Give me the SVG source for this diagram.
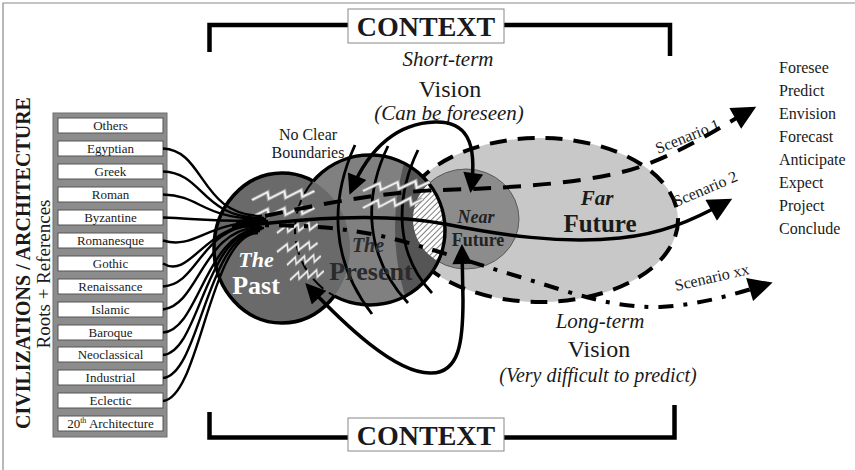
<svg xmlns="http://www.w3.org/2000/svg" xmlns:xlink="http://www.w3.org/1999/xlink" width="855" height="470" viewBox="0 0 855 470">
<style>
text{font-family:"Liberation Serif","Times New Roman",serif;fill:#1a1a1a}
.box rect{fill:#fff;stroke:#555;stroke-width:1}
.box text{font-size:13px;text-anchor:middle}
.brk{fill:none;stroke:#000;stroke-width:4.5}
.ctx rect{fill:#fff;stroke:#888;stroke-width:1}
.ctx text{font-size:28px;font-weight:bold;text-anchor:middle}
.lbl{text-anchor:middle}
.it{font-style:italic}
.word{font-size:16px}
.scn{font-size:16px}
.src{fill:none;stroke:#000;stroke-width:2.4}
.zzo{fill:none;stroke:#9a9a9a;stroke-width:3.4}
.zz{fill:none;stroke:#f0f0f0;stroke-width:1.6}
.mer{fill:none;stroke:#000;stroke-width:2.8}
</style>
<defs>
<marker id="ah" viewBox="0 0 10 10" refX="8" refY="5" markerWidth="26" markerHeight="24" markerUnits="userSpaceOnUse" orient="auto-start-reverse"><path d="M0,0 L10,5 L0,10 z" fill="#000"/></marker>
<marker id="ah2" viewBox="0 0 10 10" refX="8" refY="5" markerWidth="22" markerHeight="20" markerUnits="userSpaceOnUse" orient="auto-start-reverse"><path d="M0,0 L10,5 L0,10 z" fill="#000"/></marker>
<pattern id="hatch" width="4" height="4" patternUnits="userSpaceOnUse" patternTransform="rotate(45)"><rect width="4" height="4" fill="#fff"/><line x1="0" y1="0" x2="0" y2="4" stroke="#000" stroke-width="1"/></pattern>
<clipPath id="presentClip"><circle cx="370" cy="230" r="75"/></clipPath>
<mask id="outsidePresent" maskUnits="userSpaceOnUse" x="0" y="0" width="855" height="470"><rect width="855" height="470" fill="#fff"/><circle cx="370" cy="230" r="75" fill="#000"/></mask>
<mask id="insidePast" maskUnits="userSpaceOnUse" x="0" y="0" width="855" height="470"><rect width="855" height="470" fill="#000"/><ellipse cx="282" cy="248" rx="68" ry="75" fill="#fff"/></mask>
<path id="zz" d="M0,9 L13,1 L14,8 L27,0 L28,7 L41,-1 L42,6 L52,0"/>
<g id="zzg"><use href="#zz" class="zzo"/><use href="#zz" class="zz"/></g>
</defs>

<g id="frame"><path d="M3,470 V3 H855" fill="none" stroke="#8a8a8a" stroke-width="1.2"/></g>

<g id="context-top" class="ctx">
<path class="brk" d="M209.5,52 V25 H348 M504,25 H670 V56"/>
<rect x="348" y="9" width="156" height="34"/>
<text x="426" y="36">CONTEXT</text>
</g>
<g id="context-bottom" class="ctx">
<path class="brk" d="M209.5,412 V437.5 H348 M504,437.5 H674.5 V405"/>
<rect x="348" y="418" width="156" height="33"/>
<text x="426" y="445">CONTEXT</text>
</g>

<g id="titles">
<text transform="translate(30,263) rotate(-90)" text-anchor="middle" font-size="20" font-weight="bold">CIVILIZATIONS  / ARCHITECTURE</text>
<text transform="translate(50,274) rotate(-90)" text-anchor="middle" font-size="19">Roots + References</text>
</g>

<g id="civilizations">
<rect x="53" y="113" width="114" height="324" fill="#8c8c8c" stroke="#6e6e6e" stroke-width="1"/>
<g id="box-others" class="box"><rect x="58" y="118" width="105" height="15"/><text x="110.5" y="130">Others</text></g>
<g id="box-egyptian" class="box"><rect x="58" y="141" width="105" height="15"/><text x="110.5" y="153">Egyptian</text></g>
<g id="box-greek" class="box"><rect x="58" y="164" width="105" height="15"/><text x="110.5" y="176">Greek</text></g>
<g id="box-roman" class="box"><rect x="58" y="187" width="105" height="15"/><text x="110.5" y="199">Roman</text></g>
<g id="box-byzantine" class="box"><rect x="58" y="210" width="105" height="15"/><text x="110.5" y="222">Byzantine</text></g>
<g id="box-romanesque" class="box"><rect x="58" y="233" width="105" height="15"/><text x="110.5" y="245">Romanesque</text></g>
<g id="box-gothic" class="box"><rect x="58" y="256" width="105" height="15"/><text x="110.5" y="268">Gothic</text></g>
<g id="box-renaissance" class="box"><rect x="58" y="279" width="105" height="15"/><text x="110.5" y="291">Renaissance</text></g>
<g id="box-islamic" class="box"><rect x="58" y="302" width="105" height="15"/><text x="110.5" y="314">Islamic</text></g>
<g id="box-baroque" class="box"><rect x="58" y="325" width="105" height="15"/><text x="110.5" y="337">Baroque</text></g>
<g id="box-neoclassical" class="box"><rect x="58" y="347" width="105" height="15"/><text x="110.5" y="359">Neoclassical</text></g>
<g id="box-industrial" class="box"><rect x="58" y="370" width="105" height="15"/><text x="110.5" y="382">Industrial</text></g>
<g id="box-eclectic" class="box"><rect x="58" y="393" width="105" height="15"/><text x="110.5" y="405">Eclectic</text></g>
<g id="box-20th" class="box"><rect x="58" y="416" width="105" height="15"/><text x="110.5" y="428">20<tspan font-size="8" dy="-5">th</tspan><tspan dy="5"> Architecture</tspan></text></g>
</g>

<g id="far-future">
<ellipse cx="540" cy="220" rx="138" ry="82" fill="#c8c8c8" stroke="#000" stroke-width="4" stroke-dasharray="17 11"/>
<text class="lbl it" x="597" y="205" font-size="21" font-weight="bold">Far</text>
<text class="lbl" x="600" y="232" font-size="25" font-weight="bold">Future</text>
</g>

<g id="near-future">
<ellipse cx="466" cy="219" rx="53" ry="50" fill="#8c8c8c" stroke="#5a5a5a" stroke-width="1"/>
<text class="lbl it" x="476" y="223" font-size="18" font-weight="bold" style="fill:#222">Near</text>
<text class="lbl" x="478" y="246" font-size="18" font-weight="bold" style="fill:#222">Future</text>
</g>

<g id="present">
<circle cx="370" cy="230" r="75" fill="#808080"/>
<g clip-path="url(#presentClip)">
<circle cx="631" cy="228" r="236" fill="#555"/>
<ellipse cx="466" cy="219" rx="53" ry="50" fill="url(#hatch)"/>
</g>
<circle cx="370" cy="230" r="75" fill="none" stroke="#000" stroke-width="3.5"/>
</g>

<g id="past">
<ellipse cx="282" cy="248" rx="68" ry="75" fill="#6a6a6a"/>
<ellipse cx="282" cy="248" rx="68" ry="75" fill="none" stroke="#000" stroke-width="3.5" mask="url(#outsidePresent)"/>
<circle cx="370" cy="230" r="75" fill="none" stroke="#000" stroke-width="2" stroke-dasharray="14 7" mask="url(#insidePast)"/>
<text class="lbl it" x="256" y="267" font-size="22" font-weight="bold" style="fill:#fff">The</text>
<text class="lbl" x="256" y="294" font-size="26" font-weight="bold" style="fill:#fff">Past</text>
</g>

<g id="boundaries">
<path class="mer" d="M355,145 C330,200 330,260 372,314"/>
<path class="mer" d="M388,146 C362,200 366,258 408,303"/>
<path class="mer" d="M418,150 C394,200 396,255 432,293"/>
<use href="#zzg" transform="translate(252,191) scale(1.2,1)"/>
<use href="#zzg" transform="translate(252,208) scale(1.2,1)"/>
<use href="#zzg" transform="translate(277,224) scale(0.78,1)"/>
<use href="#zzg" transform="translate(277,243) scale(0.78,1)"/>
<use href="#zzg" transform="translate(287,256) scale(0.65,1)"/>
<use href="#zzg" transform="translate(290,271) scale(0.65,1)"/>
<use href="#zzg" transform="translate(363,182) scale(1.28,1)"/>
<use href="#zzg" transform="translate(363,199) scale(1.15,1)"/>
<text class="lbl it" x="368" y="252" font-size="20" font-weight="bold" style="fill:#2a2a2a">The</text>
<text class="lbl" x="371" y="280" font-size="26" font-weight="bold" style="fill:#2a2a2a">Present</text>
<text class="lbl" x="308" y="140" font-size="16">No Clear</text>
<text class="lbl" x="308" y="158" font-size="16">Boundaries</text>
</g>

<g id="short-term-label">
<text class="lbl it" x="448" y="66" font-size="21">Short-term</text>
<text class="lbl" x="450" y="97" font-size="24">Vision</text>
<text class="lbl it" x="449" y="120" font-size="21">(Can be foreseen)</text>
</g>
<g id="long-term-label">
<text class="lbl it" x="600" y="328" font-size="21">Long-term</text>
<text class="lbl" x="599" y="357" font-size="24">Vision</text>
<text class="lbl it" x="598" y="382" font-size="20">(Very difficult to predict)</text>
</g>

<g id="verbs" class="word">
<text x="779" y="73">Foresee</text>
<text x="779" y="96">Predict</text>
<text x="779" y="119">Envision</text>
<text x="779" y="142">Forecast</text>
<text x="779" y="165">Anticipate</text>
<text x="779" y="188">Expect</text>
<text x="779" y="211">Project</text>
<text x="779" y="234">Conclude</text>
</g>

<g id="scenario-labels" class="scn">
<text transform="translate(658,154) rotate(-22)">Scenario 1</text>
<text transform="translate(676,207) rotate(-23)">Scenario 2</text>
<text transform="translate(676,291) rotate(-13)">Scenario xx</text>
</g>

<g id="connectors">
<path class="src" d="M163,148.5 C205,150 200,216 262,216"/>
<path class="src" d="M163,171.5 C205,173 200,218 264,218"/>
<path class="src" d="M163,194.5 C203,196 200,219 266,219"/>
<path class="src" d="M163,217.5 C200,219 205,221 268,221"/>
<path class="src" d="M163,240.5 C195,250 205,222 262,222"/>
<path class="src" d="M163,263.5 C190,280 205,224 258,224"/>
<path class="src" d="M163,286.5 C200,284 200,225 260,225"/>
<path class="src" d="M163,309.5 C200,305 202,227 262,227"/>
<path class="src" d="M163,332.5 C200,330 205,228 264,228"/>
<path class="src" d="M163,355 C200,352 205,229 262,229"/>
<path class="src" d="M163,378 C200,375 207,231 260,231"/>
<path class="src" d="M163,401 C200,398 210,233 258,233"/>
<path id="scenario-1" d="M236,223 C300,207 380,192 440,190 C520,188 600,182 645,165 C690,148 720,127 752,109" fill="none" stroke="#000" stroke-width="4" stroke-dasharray="18 12" marker-end="url(#ah)"/>
<path id="scenario-2" d="M232,227 C300,219 380,212 445,224 C500,235 560,244 620,238 C660,234 690,222 728,201" fill="none" stroke="#000" stroke-width="3.5" marker-end="url(#ah)"/>
<path id="scenario-xx" d="M240,226 C290,224 340,226 390,238 C430,248 470,262 520,277 C570,292 610,308 660,307 C700,305 735,294 768,284" fill="none" stroke="#000" stroke-width="4" stroke-dasharray="15 10 4 10" marker-end="url(#ah)"/>
<path id="short-term-arrow" d="M351,191 C370,145 400,123 435,122 C465,121 478,140 471,189" fill="none" stroke="#000" stroke-width="3.5" marker-start="url(#ah2)" marker-end="url(#ah2)"/>
<path id="long-term-arrow" d="M308,286 C345,325 395,373 430,373 C460,374 463,340 463,300 L462,248" fill="none" stroke="#000" stroke-width="3.5" marker-start="url(#ah2)" marker-end="url(#ah2)"/>
</g>
</svg>
